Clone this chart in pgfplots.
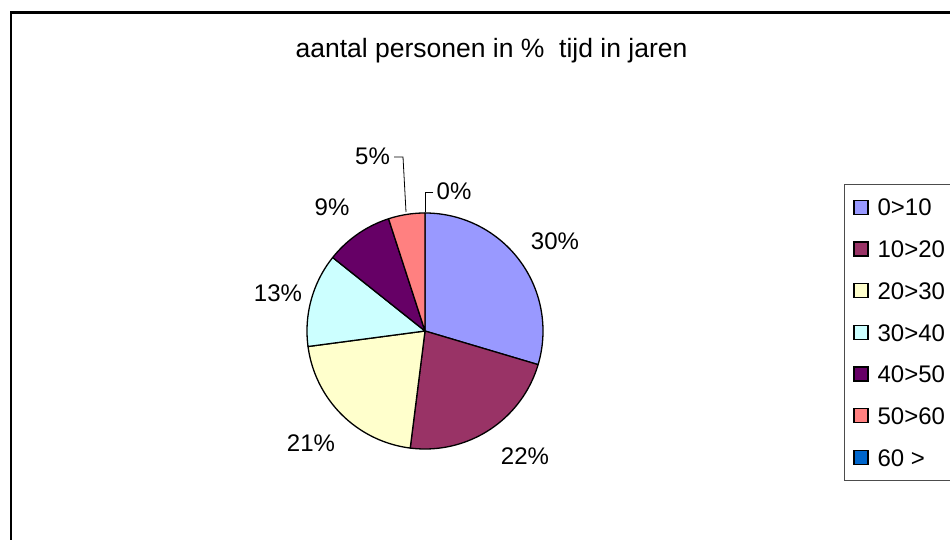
\documentclass[border=0pt]{standalone}
\usepackage{fontspec}
\setmainfont{Liberation Sans}
\usepackage{pgfplots}
\pgfplotsset{compat=1.18}
\usepackage{pgfplotstable}

\definecolor{c0}{HTML}{9999FF}
\definecolor{c1}{HTML}{993366}
\definecolor{c2}{HTML}{FFFFCC}
\definecolor{c3}{HTML}{CCFFFF}
\definecolor{c4}{HTML}{660066}
\definecolor{c5}{HTML}{FF8080}
\definecolor{c6}{HTML}{0066CC}

% share of persons (%) per duration class
\pgfplotstableread{
class value
0>10 29.6
10>20 22.4
20>30 20.9
30>40 12.8
40>50 9.3
50>60 5.0
60> 0.0
}\piedata

\newcommand{\lab}{\fontsize{24}{28}\selectfont}

\begin{document}
\begin{tikzpicture}
\useasboundingbox (0,0) rectangle (950pt,540pt);
\clip (0,0) rectangle (950pt,540pt);
\begin{axis}[
  at={(0,0)}, anchor=south west,
  width=950pt, height=540pt, scale only axis,
  xmin=0, xmax=950, ymin=0, ymax=540,
  hide axis, clip=false,
  legend cell align=left,
  legend style={at={(axis cs:844,356)}, anchor=north west,
    draw=gray!60!black, line width=0.8pt, fill=white,
    inner xsep=9pt, inner ysep=14.4pt, row sep=24.47pt, column sep=9pt,
    font=\lab,
    nodes={inner sep=0pt, text height=17.2pt, text depth=0pt}},
  legend image code/.code={\draw[#1, draw=black, line width=1.2pt] (0pt,-7pt) rectangle (14pt,7pt);},
]
% outer frame
\draw[line width=2.5pt] (axis cs:11,-20) -- (axis cs:11,527.5) -- (axis cs:980,527.5);

% pie slices from the table
\pgfmathsetmacro{\cum}{0}
\pgfplotsforeachungrouped \i in {0,...,6}{%
  \pgfplotstablegetelem{\i}{value}\of\piedata
  \let\v\pgfplotsretval
  \pgfmathsetmacro{\a}{90-3.6*\cum}%
  \pgfmathsetmacro{\b}{90-3.6*(\cum+\v)}%
  \ifdim\v pt>0pt
    \edef\temp{\noexpand\addplot[forget plot, draw=black, line width=1.3pt, line join=round, fill=c\i, domain=\b:\a, samples=90] ({425+118*cos(x)},{209+118*sin(x)}) -- (axis cs:425,209) -- cycle;}%
    \temp
  \fi
  \pgfmathsetmacro{\cum}{\cum+\v}%
}

% leader lines
\addplot[forget plot, black, line width=0.8pt] coordinates {(394,383) (403,383) (406,328)};
\addplot[forget plot, black, line width=0.8pt] coordinates {(433,348) (425,348) (425,328)};

% legend
\addlegendimage{fill=c0}\addlegendentry{\makebox[70pt][l]{0>10}}
\addlegendimage{fill=c1}\addlegendentry{\makebox[70pt][l]{10>20}}
\addlegendimage{fill=c2}\addlegendentry{\makebox[70pt][l]{20>30}}
\addlegendimage{fill=c3}\addlegendentry{\makebox[70pt][l]{30>40}}
\addlegendimage{fill=c4}\addlegendentry{\makebox[70pt][l]{40>50}}
\addlegendimage{fill=c5}\addlegendentry{\makebox[70pt][l]{50>60}}
\addlegendimage{fill=c6}\addlegendentry{\makebox[70pt][l]{60 >}}

% title and labels
\node[anchor=base, font=\fontsize{26.5}{30}\selectfont] at (axis cs:491.5,482) {aantal personen in \%\ \ tijd in jaren};
\node[anchor=base, font=\lab] at (axis cs:555,290) {30\%};
\node[anchor=base, font=\lab] at (axis cs:525,75) {22\%};
\node[anchor=base, font=\lab] at (axis cs:311,88) {21\%};
\node[anchor=base, font=\lab] at (axis cs:278,238) {13\%};
\node[anchor=base, font=\lab] at (axis cs:332,324) {9\%};
\node[anchor=base, font=\lab] at (axis cs:372.5,375) {5\%};
\node[anchor=base, font=\lab] at (axis cs:454,340) {0\%};
\end{axis}
\end{tikzpicture}
\end{document}
